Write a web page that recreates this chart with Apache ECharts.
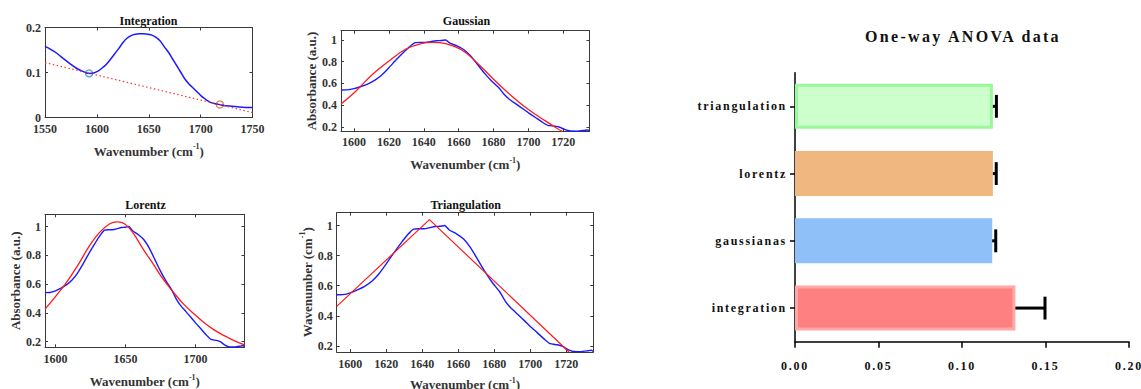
<!DOCTYPE html>
<html><head><meta charset="utf-8">
<script src="https://cdn.jsdelivr.net/npm/echarts@6/dist/echarts.min.js"></script>
<style>
html,body{margin:0;padding:0;background:#fff;}
#c{width:1141px;height:389px;}
</style></head><body><div id="c"></div>
<script>
// ---------- data ----------
// Integration panel: raw spectrum, linear baseline, baseline anchor points
const intWn  = [1550,1555,1560,1565,1570,1575,1580,1585,1590,1593,1597,1601,1605,1609,1613,1617,1621,1625,1629,1633,1637,1641,1645,1649,1653,1657,1661,1665,1669,1673,1677,1681,1685,1689,1693,1697,1701,1705,1710,1715,1720,1725,1730,1740,1750];
const intAbs = [0.158,0.152,0.145,0.136,0.127,0.118,0.110,0.104,0.099,0.098,0.099,0.103,0.110,0.118,0.129,0.141,0.153,0.166,0.176,0.182,0.185,0.186,0.186,0.185,0.183,0.178,0.170,0.157,0.145,0.130,0.115,0.100,0.085,0.074,0.065,0.056,0.047,0.040,0.033,0.030,0.028,0.026,0.025,0.023,0.022];
const baseWn  = [1550,1750];
const baseAbs = [0.122,0.011];
const markWn  = [1592.5,1718.5];
const markAbs = [0.098,0.029];

// Normalised spectrum (blue) used in the three fit panels
const specWn  = [1592.5,1596,1600,1604,1608,1612,1616,1620,1624,1628,1632,1635,1638,1641,1644,1647,1650,1652.5,1655,1659,1663,1667,1671,1675,1679,1683,1686,1689,1693,1697,1700,1704,1708,1711,1715,1718,1721,1724,1728,1732,1734,1735];
const specAbs = [0.540,0.541,0.553,0.572,0.596,0.630,0.680,0.745,0.815,0.880,0.940,0.975,0.978,0.978,0.985,0.993,0.995,1.000,0.970,0.945,0.910,0.850,0.770,0.690,0.620,0.560,0.500,0.455,0.410,0.365,0.330,0.287,0.243,0.215,0.208,0.197,0.175,0.163,0.162,0.168,0.172,0.163];

// Fits (red)
const gaussWn  = [1592.5,1601,1610.5,1620,1629.5,1639,1645,1652.5,1662,1671.5,1681,1690.5,1700,1709.5,1716,1719.5];
const gaussAbs = [0.412,0.529,0.683,0.806,0.914,0.969,0.978,0.966,0.905,0.775,0.622,0.483,0.360,0.258,0.191,0.158];
const lorWn  = [1592.5,1600,1608.5,1617,1624,1631.5,1638.5,1644,1649.5,1655.5,1662.5,1670,1677,1684.5,1691.5,1699,1706,1713,1720.5,1727.5,1735];
const lorAbs = [0.425,0.513,0.621,0.747,0.862,0.959,1.018,1.032,1.018,0.954,0.844,0.736,0.632,0.540,0.460,0.391,0.333,0.283,0.241,0.207,0.177];
const triWn  = [1592.5,1644,1721.5];
const triAbs = [0.463,1.039,0.160];

// Tick values
const intXTicks = [1550,1600,1650,1700,1750];
const intYTicks = [0,0.1,0.2];
const fitXTicks = [1600,1620,1640,1660,1680,1700,1720];
const lorXTicks = [1600,1650,1700];
const fitYTicks = [0.2,0.4,0.6,0.8,1];

// One-way ANOVA bar data
const methods = ['integration','gaussianas','lorentz','triangulation'];
const means   = [0.1320,0.1181,0.1185,0.1185];
const sds     = [0.0177,0.0021,0.0020,0.0021];

// ---------- styling / building ----------
const zip = (a,b)=>a.map((v,i)=>[v,b[i]]);
const FONT = 'Liberation Serif';
const BFONT = "'Times New Roman', 'Liberation Serif', serif";
const tickLabel = {fontFamily:FONT, fontWeight:'bold', fontSize:12, color:'#333', formatter:v=>String(v)};
const frameLine = {show:true, onZero:false, lineStyle:{color:'#3a3a3a', width:1}};
const nameRich = {
  a:{fontFamily:FONT, fontWeight:'bold', fontSize:13, color:'#333', lineHeight:15, verticalAlign:'bottom'},
  s:{fontFamily:FONT, fontWeight:'bold', fontSize:8, color:'#333', lineHeight:8, verticalAlign:'top'}
};
const wnName = '{a|Wavenumber (cm}{s|-1}{a|)}';
const absName = '{a|Absorbance (a.u.)}';

function tick(vals){ return {show:true, inside:true, length:3, customValues:vals, lineStyle:{color:'#3a3a3a'}}; }
function xPair(g,min,max,ticks,name,margin,gap){
  const base = {type:'value', gridIndex:g, min:min, max:max, splitLine:{show:false}, axisLine:frameLine};
  return [
    Object.assign({}, base, {position:'bottom', axisTick:tick(ticks),
      axisLabel:Object.assign({customValues:ticks, margin:margin}, tickLabel),
      name:name, nameLocation:'middle', nameGap:gap, nameTextStyle:{rich:nameRich}}),
    Object.assign({}, base, {position:'top', axisTick:tick(ticks), axisLabel:{show:false}})
  ];
}
function yPair(g,min,max,ticks,name,gap){
  const base = {type:'value', gridIndex:g, min:min, max:max, splitLine:{show:false}, axisLine:frameLine};
  const left = Object.assign({}, base, {position:'left', axisTick:tick(ticks),
      axisLabel:Object.assign({customValues:ticks, margin:4}, tickLabel)});
  if (name) Object.assign(left, {name:name, nameLocation:'middle', nameRotate:90, nameGap:gap, nameTextStyle:{rich:nameRich}});
  return [left, Object.assign({}, base, {position:'right', axisTick:tick(ticks), axisLabel:{show:false}})];
}

const grids = [
  {left:45, top:27.5, width:207.5, height:90},
  {left:341, top:30.7, width:248.5, height:100.6},
  {left:45, top:214.3, width:199.5, height:133},
  {left:336.7, top:212.7, width:256.6, height:139.3},
  {left:795, top:72.7, width:334, height:269}
].map(g=>Object.assign(g,{outerBoundsMode:'none', containLabel:false}));

const xAxes = [].concat(
  xPair(0,1550,1750,intXTicks,wnName,5,25),
  xPair(1,1592.5,1735,fitXTicks,wnName,5,25),
  xPair(2,1592.5,1735,lorXTicks,wnName,6,26),
  xPair(3,1592.5,1735,fitXTicks,wnName,6,24),
  [{type:'value', gridIndex:4, min:0, max:0.2, interval:0.05, position:'bottom',
    splitLine:{show:false},
    axisLine:{show:true, onZero:false, lineStyle:{color:'#000', width:1.5}},
    axisTick:{show:true, length:6, lineStyle:{color:'#000', width:1.5}},
    axisLabel:{margin:18, fontFamily:BFONT, fontWeight:'bold', fontSize:12, color:'#111',
      formatter:v=>v.toFixed(2)}}]
);
const yAxes = [].concat(
  yPair(0,0,0.2,intYTicks,null,0),
  yPair(1,0.16,1.085,fitYTicks,absName,20),
  yPair(2,0.16,1.085,fitYTicks,absName,21),
  yPair(3,0.16,1.085,fitYTicks,wnName,21),
  [{type:'category', gridIndex:4, data:methods,
    axisLine:{show:true, lineStyle:{color:'#000', width:1.5}},
    axisTick:{show:true, alignWithLabel:true, length:5, lineStyle:{color:'#000', width:1.5}},
    axisLabel:{margin:8, fontFamily:BFONT, fontWeight:'bold', fontSize:12, color:'#111'}}]
);

const BLUE = '#1a1aff', RED = '#ff1a1a';
const lineS = (xi, data, color, w, smooth) => ({type:'line', xAxisIndex:xi, yAxisIndex:xi, data:data,
  showSymbol:false, smooth:smooth, lineStyle:{color:color, width:w}, silent:true, clip:true});

const barFill   = ['#ff8080','#90c0f8','#f0b880','#ccffcc'];
const barBorder = ['#ffa8a8','#90c0f8','#f0b880','#99f899'];
const markColor = ['#2a8fd8','#e0602a'];

const titleStyle = {fontFamily:FONT, fontWeight:'bold', fontSize:12, color:'#111'};
const titles = [
  {text:'Integration', left:148.5, top:14.5},
  {text:'Gaussian', left:466.5, top:14.5},
  {text:'Lorentz', left:145.5, top:199},
  {text:'Triangulation', left:465.7, top:199}
].map(t=>Object.assign(t,{textAlign:'center', padding:0, textStyle:titleStyle}));
titles.push({text:'One-way ANOVA data', left:963, top:28, textAlign:'center', padding:0,
  textStyle:{fontFamily:BFONT, fontWeight:'bold', fontSize:16, color:'#111'}});

const option = {
  animation:false,
  backgroundColor:'#fff',
  title:titles,
  grid:grids,
  xAxis:xAxes,
  yAxis:yAxes,
  series:[
    lineS(0, zip(intWn,intAbs), BLUE, 1.5, 0.3),
    {type:'line', xAxisIndex:0, yAxisIndex:0, data:zip(baseWn,baseAbs), showSymbol:false,
      lineStyle:{color:'#ff3333', width:1.2, type:[1.5,2.5]}},
    {type:'scatter', xAxisIndex:0, yAxisIndex:0, symbol:'circle', symbolSize:7,
      data:zip(markWn,markAbs).map((p,i)=>({value:p, itemStyle:{color:'rgba(0,0,0,0)', borderColor:markColor[i], borderWidth:1.3}}))},
    lineS(2, zip(specWn,specAbs), BLUE, 1.4, 0.15),
    lineS(2, zip(gaussWn,gaussAbs), RED, 1.3, 0.4),
    lineS(4, zip(specWn,specAbs), BLUE, 1.4, 0.15),
    lineS(4, zip(lorWn,lorAbs), RED, 1.3, 0.4),
    lineS(6, zip(specWn,specAbs), BLUE, 1.4, 0.15),
    lineS(6, zip(triWn,triAbs), RED, 1.2, false),
    {type:'bar', xAxisIndex:8, yAxisIndex:8, barWidth:45,
      data:means.map((v,i)=>({value:v, itemStyle:{color:barFill[i], borderColor:barBorder[i], borderWidth:3}}))},
    {type:'custom', xAxisIndex:8, yAxisIndex:8,
      data:methods.map((m,i)=>[i, means[i], sds[i]]),
      encode:{x:1, y:0},
      renderItem:function(params, api){
        const i = api.value(0), m = api.value(1), s = api.value(2);
        const a = api.coord([m, i]), b = api.coord([m + s, i]);
        const h = api.size([0,1])[1] * 0.34;
        return {type:'group', children:[
          {type:'line', shape:{x1:a[0]-1, y1:a[1], x2:b[0], y2:b[1]}, style:{stroke:'#000', lineWidth:3}},
          {type:'line', shape:{x1:b[0], y1:b[1]-h/2, x2:b[0], y2:b[1]+h/2}, style:{stroke:'#000', lineWidth:3}}
        ]};
      }}
  ]
};

const chart = echarts.init(document.getElementById('c'), null, {renderer:'svg'});
chart.setOption(option);

function spaceOut(){
  document.querySelectorAll('#c svg text').forEach(t=>{
    const cs = getComputedStyle(t);
    if (cs.fontFamily.indexOf('Times') >= 0) {
      const fs = parseFloat(cs.fontSize);
      t.style.letterSpacing = fs >= 14 ? '2.3px' : '1.7px';
    }
  });
}
spaceOut();
chart.on('finished', spaceOut);
chart.on('rendered', spaceOut);
</script></body></html>
